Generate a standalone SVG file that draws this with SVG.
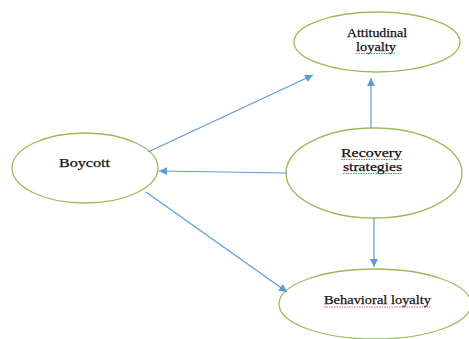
<svg xmlns="http://www.w3.org/2000/svg" width="469" height="339" viewBox="0 0 469 339">
<defs>
<style>
.node{fill:#fff;stroke:#9bbb59;stroke-width:1.3}
.lbl{font-family:"Liberation Serif","Times New Roman",serif;font-size:13.5px;fill:#111;stroke:#111;stroke-width:0.25}
.sm{font-size:12.5px}
.conn{stroke:#5b9bd5;stroke-width:1.2;fill:none;marker-end:url(#ah)}
.sq{stroke:#e03030;stroke-width:0.8;fill:none;stroke-dasharray:1.5 1}
</style>
<marker id="ah" viewBox="0 0 10 10" refX="10" refY="5" markerWidth="8" markerHeight="8" markerUnits="userSpaceOnUse" orient="auto">
<path d="M0,0 L10,5 L0,10 z" fill="#5b9bd5"/>
</marker>
</defs>
<rect width="469" height="339" fill="#fff"/>
<g id="attitudinal">
<ellipse class="node" cx="377" cy="42" rx="83" ry="30"/>
<text class="lbl sm" x="347" y="36.5" textLength="60" lengthAdjust="spacingAndGlyphs">Attitudinal</text>
<text class="lbl sm" x="356" y="50.5" textLength="40" lengthAdjust="spacingAndGlyphs">loyalty</text>
<path class="sq" d="M356,53.5 H396"/>
</g>
<g id="boycott">
<ellipse class="node" cx="85" cy="168" rx="73" ry="35"/>
<text class="lbl" x="59" y="167" textLength="51" lengthAdjust="spacingAndGlyphs">Boycott</text>
</g>
<g id="recovery">
<ellipse class="node" cx="374" cy="173" rx="88" ry="45"/>
<text class="lbl sm" x="341" y="156.5" textLength="61" lengthAdjust="spacingAndGlyphs">Recovery</text>
<text class="lbl sm" x="343" y="170.5" textLength="59" lengthAdjust="spacingAndGlyphs">strategies</text>
<path class="sq" d="M341,159.5 H402 M343,173.5 H402"/>
</g>
<g id="behavioral">
<ellipse class="node" cx="375" cy="304" rx="96" ry="35"/>
<text class="lbl" x="324" y="304" textLength="107" lengthAdjust="spacingAndGlyphs">Behavioral loyalty</text>
<path class="sq" d="M324,307 H431"/>
</g>
<g id="connectors">
<line class="conn" x1="148" y1="152" x2="313" y2="75"/>
<line class="conn" x1="371" y1="128" x2="371" y2="78"/>
<line class="conn" x1="287" y1="173" x2="159" y2="171"/>
<line class="conn" x1="374" y1="218" x2="374" y2="267"/>
<line class="conn" x1="146" y1="192" x2="287" y2="292"/>
</g>
</svg>
